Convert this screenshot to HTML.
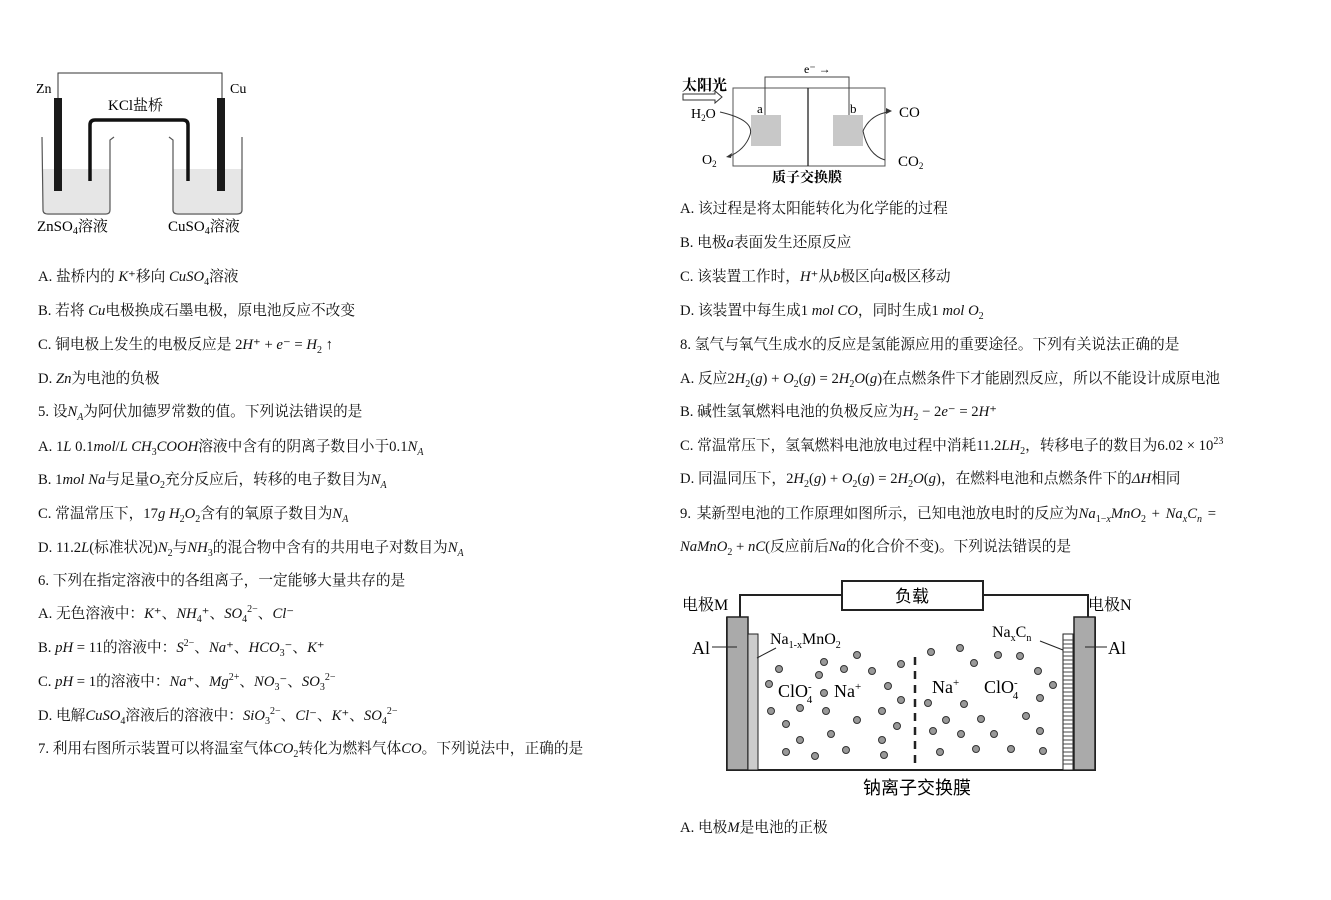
<!DOCTYPE html><html><head><meta charset="utf-8"><style>
body{margin:0;width:1331px;height:900px;background:#fff;position:relative;overflow:hidden;font-family:"Liberation Serif","Noto Serif CJK SC",serif;color:#111}
.t{position:absolute;font-size:14.7px;white-space:nowrap;line-height:20px}
i{font-family:"Liberation Serif",serif}
sub,sup{line-height:0;font-size:10px}
svg{position:absolute;left:0;top:0}
</style></head><body>
<svg width="1331" height="900" font-family="Liberation Serif,Noto Serif CJK SC,serif">
<!-- left diagram -->
<polyline points="58,98 58,73 222,73 222,98" fill="none" stroke="#333" stroke-width="1"/>
<text x="36" y="93" font-size="14">Zn</text><text x="230" y="93" font-size="14">Cu</text>
<rect x="43" y="169" width="67" height="44" fill="#e6e6e6"/><rect x="173" y="169" width="69" height="44" fill="#e6e6e6"/>
<path d="M42,137 L43,210 Q43,214 48,214 L106,214 Q110,214 110,210 L110,140 L114,137" fill="none" stroke="#555" stroke-width="1.2"/>
<path d="M169,137 L173,140 L173,210 Q173,214 178,214 L237,214 Q242,214 242,210 L242,137" fill="none" stroke="#555" stroke-width="1.2"/>
<rect x="54" y="98" width="8" height="93" fill="#1a1a1a"/><rect x="217" y="98" width="8" height="93" fill="#1a1a1a"/>
<path d="M90,181 L90,125 Q90,120 95,120 L183,120 Q188,120 188,125 L188,181" fill="none" stroke="#111" stroke-width="3.5"/>
<text x="108" y="110" font-size="15">KCl盐桥</text>
<text x="37" y="231" font-size="15">ZnSO<tspan font-size="10" dy="3">4</tspan><tspan dy="-3">溶液</tspan></text>
<text x="168" y="231" font-size="15">CuSO<tspan font-size="10" dy="3">4</tspan><tspan dy="-3">溶液</tspan></text>
<!-- top right diagram -->
<rect x="733" y="88" width="152" height="78" fill="none" stroke="#555"/>
<line x1="808" y1="88" x2="808" y2="166" stroke="#222" stroke-width="1.3"/>
<polyline points="765,115 765,77 849,77 849,115" fill="none" stroke="#444"/>
<text x="804" y="73" font-size="12">e⁻ →</text>
<rect x="751" y="115" width="30" height="31" fill="#c8c8c8"/><rect x="833" y="115" width="30" height="31" fill="#c8c8c8"/>
<text x="757" y="113" font-size="13">a</text><text x="850" y="113" font-size="13">b</text>
<text x="682" y="90" font-size="15" font-weight="bold">太阳光</text>
<path d="M683,94 L715,94 L715,91 L722,97 L715,103 L715,100 L683,100 Z" fill="#fff" stroke="#333"/>
<text x="691" y="118" font-size="14">H<tspan font-size="9" dy="3">2</tspan><tspan dy="-3">O</tspan></text>
<path d="M720,112 Q755,120 750,135 Q745,150 728,157" fill="none" stroke="#333"/>
<path d="M726,157 l6,-4 l-1,5z" fill="#333"/>
<text x="702" y="164" font-size="14">O<tspan font-size="9" dy="3">2</tspan></text>
<path d="M863,131 Q870,115 888,112" fill="none" stroke="#333"/><path d="M892,111 l-6,-3 l0,6z" fill="#333"/>
<path d="M863,131 Q868,155 885,160" fill="none" stroke="#333"/>
<text x="899" y="117" font-size="15">CO</text>
<text x="898" y="166" font-size="15">CO<tspan font-size="9" dy="3">2</tspan></text>
<text x="772" y="182" font-size="14" font-weight="bold">质子交换膜</text>
<!-- bottom right diagram -->
<polyline points="740,617 740,595 1088,595 1088,617" fill="none" stroke="#222" stroke-width="2"/>
<rect x="842" y="581" width="141" height="29" fill="#fff" stroke="#222" stroke-width="2"/>
<text x="912" y="602" font-size="17" text-anchor="middle" font-family="Noto Sans CJK SC,sans-serif">负载</text>
<polyline points="727,617 727,770 1095,770 1095,617" fill="none" stroke="#222" stroke-width="2"/>
<rect x="727" y="617" width="21" height="153" fill="#aaa" stroke="#222" stroke-width="1.5"/>
<rect x="748" y="634" width="10" height="136" fill="#ccc" stroke="#222" stroke-width="1"/>
<rect x="1074" y="617" width="21" height="153" fill="#aaa" stroke="#222" stroke-width="1.5"/>
<rect x="1063" y="634" width="10" height="136" fill="#fff" stroke="#222" stroke-width="1"/>
<g stroke="#444" stroke-width="1"><path d="M1063,640h10M1063,644h10M1063,648h10M1063,652h10M1063,656h10M1063,660h10M1063,664h10M1063,668h10M1063,672h10M1063,676h10M1063,680h10M1063,684h10M1063,688h10M1063,692h10M1063,696h10M1063,700h10M1063,704h10M1063,708h10M1063,712h10M1063,716h10M1063,720h10M1063,724h10M1063,728h10M1063,732h10M1063,736h10M1063,740h10M1063,744h10M1063,748h10M1063,752h10M1063,756h10M1063,760h10M1063,764h10"/></g>
<line x1="915" y1="657" x2="915" y2="770" stroke="#222" stroke-width="2.5" stroke-dasharray="8,6"/>
<text x="682" y="610" font-size="16">电极M</text><text x="1088" y="610" font-size="16">电极N</text>
<text x="692" y="654" font-size="18">Al</text><line x1="712" y1="647" x2="737" y2="647" stroke="#222"/>
<text x="1108" y="654" font-size="18">Al</text><line x1="1085" y1="647" x2="1107" y2="647" stroke="#222"/>
<text x="770" y="644" font-size="16">Na<tspan font-size="10" dy="4">1-x</tspan><tspan dy="-4">MnO</tspan><tspan font-size="10" dy="4">2</tspan></text>
<line x1="757" y1="658" x2="776" y2="648" stroke="#222"/>
<text x="992" y="637" font-size="16">Na<tspan font-size="10" dy="4">x</tspan><tspan dy="-4">C</tspan><tspan font-size="10" dy="4">n</tspan></text>
<line x1="1040" y1="641" x2="1063" y2="650" stroke="#222"/>
<text x="778" y="697" font-size="18">ClO<tspan font-size="11" dy="-7">-</tspan><tspan font-size="11" dx="-5" dy="13">4</tspan></text>
<text x="834" y="697" font-size="18">Na<tspan font-size="11" dy="-7">+</tspan></text>
<text x="932" y="693" font-size="18">Na<tspan font-size="11" dy="-7">+</tspan></text>
<text x="984" y="693" font-size="18">ClO<tspan font-size="11" dy="-7">-</tspan><tspan font-size="11" dx="-5" dy="13">4</tspan></text>
<g fill="#999" stroke="#333" stroke-width="1">
<circle cx="779" cy="669" r="3.5"/><circle cx="824" cy="662" r="3.5"/><circle cx="857" cy="655" r="3.5"/><circle cx="844" cy="669" r="3.5"/><circle cx="872" cy="671" r="3.5"/><circle cx="901" cy="664" r="3.5"/><circle cx="769" cy="684" r="3.5"/><circle cx="819" cy="675" r="3.5"/><circle cx="824" cy="693" r="3.5"/><circle cx="888" cy="686" r="3.5"/><circle cx="901" cy="700" r="3.5"/><circle cx="771" cy="711" r="3.5"/><circle cx="800" cy="708" r="3.5"/><circle cx="826" cy="711" r="3.5"/><circle cx="882" cy="711" r="3.5"/><circle cx="786" cy="724" r="3.5"/><circle cx="857" cy="720" r="3.5"/><circle cx="897" cy="726" r="3.5"/><circle cx="800" cy="740" r="3.5"/><circle cx="831" cy="734" r="3.5"/><circle cx="882" cy="740" r="3.5"/><circle cx="786" cy="752" r="3.5"/><circle cx="815" cy="756" r="3.5"/><circle cx="846" cy="750" r="3.5"/><circle cx="884" cy="755" r="3.5"/>
<circle cx="931" cy="652" r="3.5"/><circle cx="960" cy="648" r="3.5"/><circle cx="998" cy="655" r="3.5"/><circle cx="1020" cy="656" r="3.5"/><circle cx="974" cy="663" r="3.5"/><circle cx="1038" cy="671" r="3.5"/><circle cx="1053" cy="685" r="3.5"/><circle cx="1040" cy="698" r="3.5"/><circle cx="928" cy="703" r="3.5"/><circle cx="964" cy="704" r="3.5"/><circle cx="946" cy="720" r="3.5"/><circle cx="981" cy="719" r="3.5"/><circle cx="1026" cy="716" r="3.5"/><circle cx="933" cy="731" r="3.5"/><circle cx="961" cy="734" r="3.5"/><circle cx="994" cy="734" r="3.5"/><circle cx="1040" cy="731" r="3.5"/><circle cx="940" cy="752" r="3.5"/><circle cx="976" cy="749" r="3.5"/><circle cx="1011" cy="749" r="3.5"/><circle cx="1043" cy="751" r="3.5"/>
</g>
<text x="917" y="794" font-size="18" text-anchor="middle" font-family="Noto Sans CJK SC,sans-serif">钠离子交换膜</text>
</svg>
<div class="t" style="left:38px;top:267px">A. 盐桥内的 <i>K</i>⁺移向 <i>CuSO</i><sub>4</sub>溶液</div>
<div class="t" style="left:38px;top:301px">B. 若将 <i>Cu</i>电极换成石墨电极，原电池反应不改变</div>
<div class="t" style="left:38px;top:335px">C. 铜电极上发生的电极反应是 2<i>H</i>⁺ + <i>e</i>⁻ = <i>H</i><sub>2</sub> ↑</div>
<div class="t" style="left:38px;top:369px">D. <i>Zn</i>为电池的负极</div>
<div class="t" style="left:38px;top:402px">5. 设<i>N<sub>A</sub></i>为阿伏加德罗常数的值。下列说法错误的是</div>
<div class="t" style="left:38px;top:437px">A. 1<i>L</i> 0.1<i>mol</i>/<i>L CH</i><sub>3</sub><i>COOH</i>溶液中含有的阴离子数目小于0.1<i>N<sub>A</sub></i></div>
<div class="t" style="left:38px;top:470px">B. 1<i>mol Na</i>与足量<i>O</i><sub>2</sub>充分反应后，转移的电子数目为<i>N<sub>A</sub></i></div>
<div class="t" style="left:38px;top:504px">C. 常温常压下，17<i>g H</i><sub>2</sub><i>O</i><sub>2</sub>含有的氧原子数目为<i>N<sub>A</sub></i></div>
<div class="t" style="left:38px;top:538px">D. 11.2<i>L</i>(标准状况)<i>N</i><sub>2</sub>与<i>NH</i><sub>3</sub>的混合物中含有的共用电子对数目为<i>N<sub>A</sub></i></div>
<div class="t" style="left:38px;top:571px">6. 下列在指定溶液中的各组离子，一定能够大量共存的是</div>
<div class="t" style="left:38px;top:604px">A. 无色溶液中：<i>K</i>⁺、<i>NH</i><sub>4</sub>⁺、<i>SO</i><sub>4</sub><sup>2−</sup>、<i>Cl</i>⁻</div>
<div class="t" style="left:38px;top:638px">B. <i>pH</i> = 11的溶液中：<i>S</i><sup>2−</sup>、<i>Na</i>⁺、<i>HCO</i><sub>3</sub>⁻、<i>K</i>⁺</div>
<div class="t" style="left:38px;top:672px">C. <i>pH</i> = 1的溶液中：<i>Na</i>⁺、<i>Mg</i><sup>2+</sup>、<i>NO</i><sub>3</sub>⁻、<i>SO</i><sub>3</sub><sup>2−</sup></div>
<div class="t" style="left:38px;top:706px">D. 电解<i>CuSO</i><sub>4</sub>溶液后的溶液中：<i>SiO</i><sub>3</sub><sup>2−</sup>、<i>Cl</i>⁻、<i>K</i>⁺、<i>SO</i><sub>4</sub><sup>2−</sup></div>
<div class="t" style="left:38px;top:739px">7. 利用右图所示装置可以将温室气体<i>CO</i><sub>2</sub>转化为燃料气体<i>CO</i>。下列说法中，正确的是</div>
<div class="t" style="left:680px;top:199px">A. 该过程是将太阳能转化为化学能的过程</div>
<div class="t" style="left:680px;top:233px">B. 电极<i>a</i>表面发生还原反应</div>
<div class="t" style="left:680px;top:267px">C. 该装置工作时，<i>H</i>⁺从<i>b</i>极区向<i>a</i>极区移动</div>
<div class="t" style="left:680px;top:301px">D. 该装置中每生成1 <i>mol CO</i>，同时生成1 <i>mol O</i><sub>2</sub></div>
<div class="t" style="left:680px;top:335px">8. 氢气与氧气生成水的反应是氢能源应用的重要途径。下列有关说法正确的是</div>
<div class="t" style="left:680px;top:369px">A. 反应2<i>H</i><sub>2</sub>(<i>g</i>) + <i>O</i><sub>2</sub>(<i>g</i>) = 2<i>H</i><sub>2</sub><i>O</i>(<i>g</i>)在点燃条件下才能剧烈反应，所以不能设计成原电池</div>
<div class="t" style="left:680px;top:402px">B. 碱性氢氧燃料电池的负极反应为<i>H</i><sub>2</sub> − 2<i>e</i>⁻ = 2<i>H</i>⁺</div>
<div class="t" style="left:680px;top:436px">C. 常温常压下，氢氧燃料电池放电过程中消耗11.2<i>LH</i><sub>2</sub>，转移电子的数目为6.02 × 10<sup>23</sup></div>
<div class="t" style="left:680px;top:469px">D. 同温同压下，2<i>H</i><sub>2</sub>(<i>g</i>) + <i>O</i><sub>2</sub>(<i>g</i>) = 2<i>H</i><sub>2</sub><i>O</i>(<i>g</i>)，在燃料电池和点燃条件下的<i>ΔH</i>相同</div>
<div class="t" style="left:680px;top:504px;word-spacing:2px">9. 某新型电池的工作原理如图所示，已知电池放电时的反应为<i>Na</i><sub>1−<i>x</i></sub><i>MnO</i><sub>2</sub> + <i>Na<sub>x</sub>C<sub>n</sub></i> =</div>
<div class="t" style="left:680px;top:537px"><i>NaMnO</i><sub>2</sub> + <i>nC</i>(反应前后<i>Na</i>的化合价不变)。下列说法错误的是</div>
<div class="t" style="left:680px;top:818px">A. 电极<i>M</i>是电池的正极</div>
</body></html>
